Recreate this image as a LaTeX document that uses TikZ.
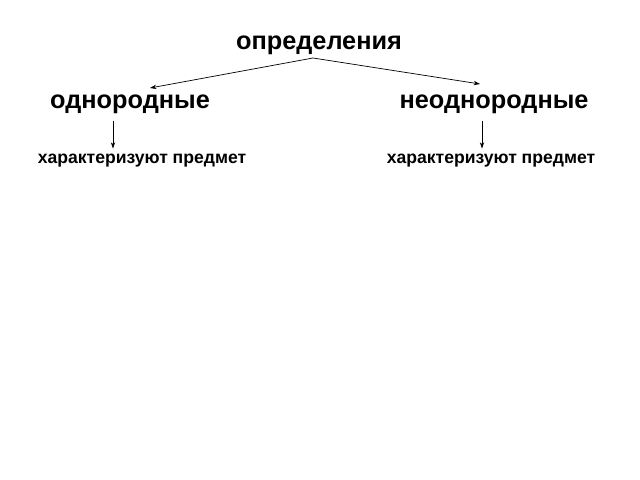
\documentclass[tikz,border=0pt]{standalone}
\usepackage{fontspec}
\setmainfont{Liberation Sans}
\usetikzlibrary{arrows.meta, positioning}
\tikzset{
    head/.style={font=\bfseries\fontsize{18}{20}\selectfont, inner sep=1pt},
    kind/.style={font=\bfseries\fontsize{18}{20}\selectfont, inner sep=1pt},
    note/.style={font=\bfseries\fontsize{12.5}{14}\selectfont, inner sep=1pt},
    arrow/.style={line width=0.5pt, -{Stealth[length=1.6mm, width=1.1mm]}}
}

\begin{document}
\begin{tikzpicture}[x=0.025cm, y=-0.025cm]
    \useasboundingbox (0,0) rectangle (640,480);

    % Nodes
    \node (def) [head] at (319,45) {определения};
    \node (hom) [kind] at (130,104) {однородные};
    \node (het) [kind] at (494,104) {неоднородные};
    \node (homnote) [note] at (142,161) {характеризуют предмет};
    \node (hetnote) [note] at (491,161) {характеризуют предмет};

    % Arrows
    \coordinate (apex) at (313,58);
    \coordinate (homtip) at (150,88);
    \coordinate (hettip) at (480,84);
    \draw [arrow] (apex) -- (homtip);
    \draw [arrow] (apex) -- (hettip);

    \draw [arrow, shorten <=4pt, shorten >=3pt] (hom.south -| 113,0) -- (homnote.north -| 113,0);
    \draw [arrow, shorten <=4pt, shorten >=3pt] (het.south -| 482,0) -- (hetnote.north -| 482,0);

\end{tikzpicture}
\end{document}
